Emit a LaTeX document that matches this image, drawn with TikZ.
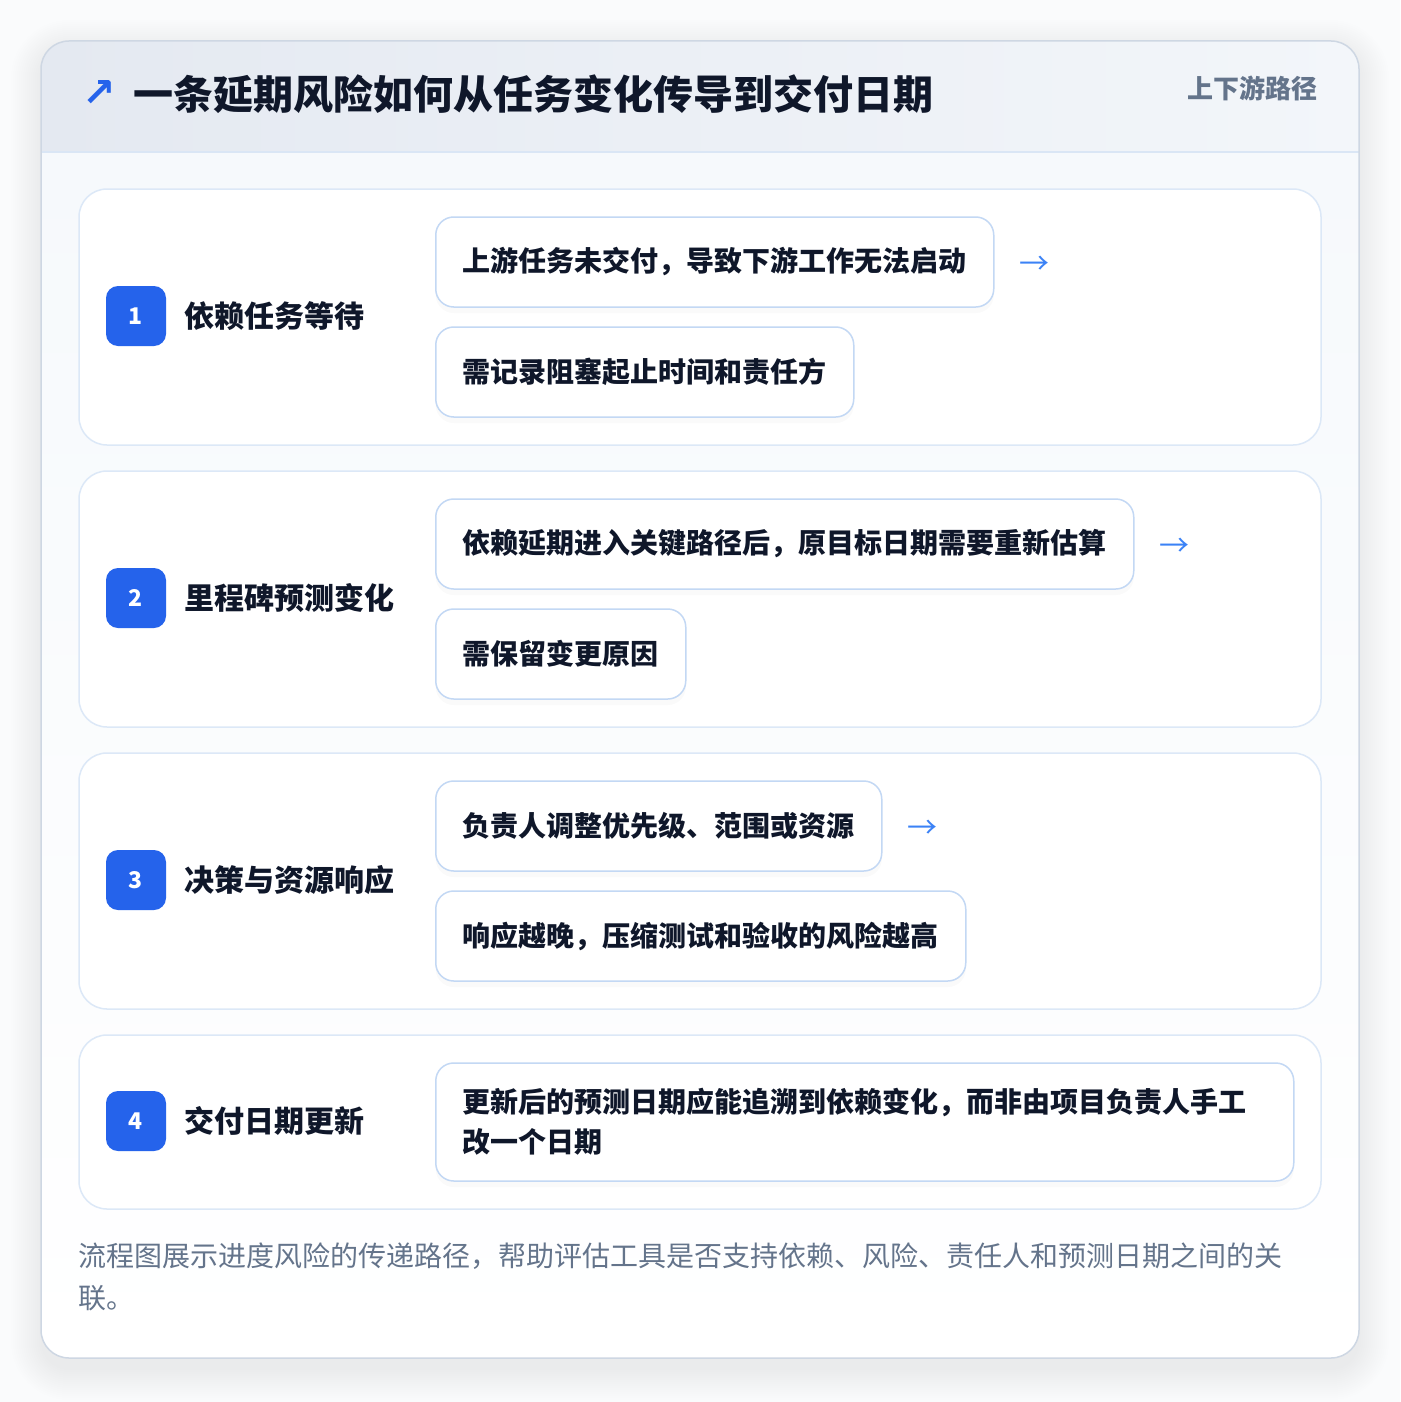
\documentclass[tikz,border=0pt]{standalone}
\usepackage{fontspec}
\setmainfont{Noto Sans CJK SC}
\newfontfamily\symfont{DejaVu Sans}
\usetikzlibrary{positioning,shadows}
\definecolor{pagebg}{HTML}{FAFBFC}
\definecolor{frameline}{HTML}{CED7E3}
\definecolor{headleft}{HTML}{E4E9F1}
\definecolor{headright}{HTML}{F3F6FA}
\definecolor{headline}{HTML}{DAE6F5}
\definecolor{bodytop}{HTML}{F6F9FC}
\definecolor{cardline}{HTML}{DCE8F7}
\definecolor{boxline}{HTML}{C3D8F4}
\definecolor{badgeblue}{HTML}{2563EB}
\definecolor{arrowblue}{HTML}{3B82F6}
\definecolor{ink}{HTML}{0F172A}
\definecolor{muted}{HTML}{64748B}
\begin{document}
\begin{tikzpicture}
    [x=1pt, y=-1pt,
     card/.style={draw=cardline, fill=white, line width=1.5pt, rounded corners=28pt},
     badge/.style={fill=badgeblue, text=white, rounded corners=12pt, minimum size=60pt, inner sep=0pt, font=\bfseries\fontsize{23}{23}\selectfont},
     steptitle/.style={anchor=west, inner sep=0pt, text=ink, font=\bfseries\fontsize{30}{30}\selectfont},
     box/.style={draw=boxline, line width=1.5pt, fill=white, rounded corners=18pt, anchor=west, inner xsep=27pt, inner ysep=0pt, minimum height=90pt, text=ink, align=left, font=\bfseries\fontsize{28}{40}\selectfont, drop shadow={opacity=0.04, shadow xshift=0pt, shadow yshift=-6pt}},
     next/.style={inner sep=0pt, text=arrowblue, font=\fontsize{30}{30}\selectfont, yshift=-3pt}]
    \useasboundingbox (0,0) rectangle (1400,1402);
    \fill[pagebg] (0,0) rectangle (1400,1402);

    % soft shadow of the frame
    \foreach \s [evaluate=\s as \r using 28+\s] in {0,2,...,30}
        \fill[black, opacity=0.0035, rounded corners=\r pt] ({41-\s},{50-\s}) rectangle ({1359+\s},{1370+\s});

    % frame with header band
    \begin{scope}
        \clip[rounded corners=28pt] (41,41) rectangle (1359,1358);
        \shade[top color=bodytop, bottom color=white] (41,152) rectangle (1359,1358);
        \shade[left color=headleft, right color=headright] (41,41) rectangle (1359,152);
        \draw[headline, line width=1.5pt] (41,152) -- (1359,152);
    \end{scope}
    \draw[frameline, line width=1.5pt, rounded corners=28pt] (41,41) rectangle (1359,1358);

    \node[inner sep=0pt, text=badgeblue, font=\symfont\bfseries\fontsize{40}{40}\selectfont] (icon) at (99,94) {↗};
    \node[anchor=west, inner sep=0pt, text=ink, font=\bfseries\fontsize{40}{40}\selectfont] (title) at (133,94) {一条延期风险如何从任务变化传导到交付日期};
    \node[anchor=east, inner sep=0pt, text=muted, font=\bfseries\fontsize{26}{26}\selectfont] (tag) at (1318,88) {上下游路径};

    % step cards
    \draw[card] (79,189) rectangle (1321,445);
    \draw[card] (79,471) rectangle (1321,727);
    \draw[card] (79,753) rectangle (1321,1009);
    \draw[card] (79,1035) rectangle (1321,1209);

    % step 1
    \node[badge] (n1) at (136,316) {1};
    \node[steptitle] (s1) at (184,316) {依赖任务等待};
    \node[box] (b11) at (435,262) {上游任务未交付，导致下游工作无法启动};
    \node[box] (b12) at (435,372) {需记录阻塞起止时间和责任方};
    \node[next, right=25pt of b11] (a1) {→};

    % step 2
    \node[badge] (n2) at (136,598) {2};
    \node[steptitle] (s2) at (184,598) {里程碑预测变化};
    \node[box] (b21) at (435,544) {依赖延期进入关键路径后，原目标日期需要重新估算};
    \node[box] (b22) at (435,654) {需保留变更原因};
    \node[next, right=25pt of b21] (a2) {→};

    % step 3
    \node[badge] (n3) at (136,880) {3};
    \node[steptitle] (s3) at (184,880) {决策与资源响应};
    \node[box] (b31) at (435,826) {负责人调整优先级、范围或资源};
    \node[box] (b32) at (435,936) {响应越晚，压缩测试和验收的风险越高};
    \node[next, right=25pt of b31] (a3) {→};

    % step 4
    \node[badge] (n4) at (136,1121) {4};
    \node[steptitle] (s4) at (184,1121) {交付日期更新};
    \node[box, minimum height=118pt, text width=804pt] (b41) at (435,1122) {更新后的预测日期应能追溯到依赖变化，而非由项目负责人手工\\改一个日期};

    \node[anchor=north west, inner sep=0pt, text=muted, align=left, font=\fontsize{28}{42}\selectfont] (note) at (78,1243) {流程图展示进度风险的传递路径，帮助评估工具是否支持依赖、风险、责任人和预测日期之间的关\\联。};
\end{tikzpicture}
\end{document}
